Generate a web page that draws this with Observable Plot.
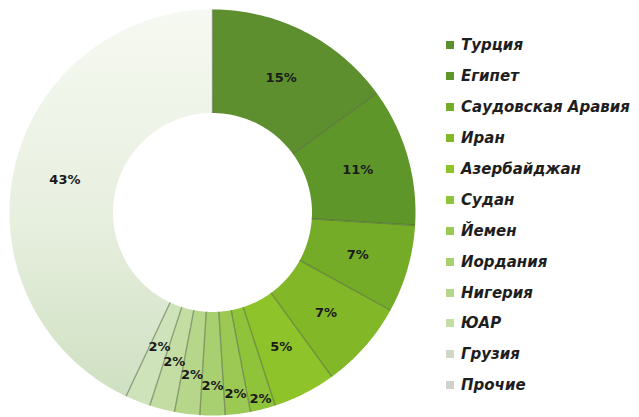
<!DOCTYPE html>
<html><head><meta charset="utf-8">
<script src="https://cdn.jsdelivr.net/npm/d3@7"></script>
<script src="https://cdn.jsdelivr.net/npm/@observablehq/plot@0.6"></script>
<style>
body{margin:0;background:#fff;}
#wrap{position:relative;width:639px;height:417px;overflow:hidden;}
#legend{position:absolute;left:446px;top:30px;font-family:"DejaVu Sans",sans-serif;font-weight:bold;font-style:italic;font-size:15px;color:#1e1e1e;}
.item{height:30.9px;display:flex;align-items:center;white-space:nowrap;}
.item svg{margin-right:7px;flex:none;}
</style></head><body><div id="wrap"><div id="legend"></div></div>
<script>
const countries = ["Турция","Египет","Саудовская Аравия","Иран","Азербайджан","Судан","Йемен","Иордания","Нигерия","ЮАР","Грузия","Прочие"];
const shares = [15,11,7,7,5,2,2,2,2,2,2,43];
const colors = ["#5d8f2e","#5f9629","#74ab27","#82b828","#8ec429","#8fc33a","#9bc954","#a8cf70","#b6d68a","#c3dda3","#cfe3ba","url(#gOther)"];
const legendColors = ["#5d8f2e","#5f9629","#74ab27","#82b828","#8ec429","#8fc33a","#9bc954","#a8cf70","#b6d68a","#c3dda3","#cfd8c4","#cfd2cb"];

const R_IN = 0.49;
const total = d3.sum(shares);
let acc = 0;
const slices = countries.map((name, i) => {
  const a0 = acc / total * 2 * Math.PI; acc += shares[i];
  const a1 = acc / total * 2 * Math.PI;
  return {name, value: shares[i], a0, a1, i};
});
const pt = (a, r) => ({x: r * Math.sin(a), y: r * Math.cos(a)});
const ringPts = slices.flatMap(s => {
  const n = Math.max(2, Math.ceil((s.a1 - s.a0) / Math.PI * 180));
  const pts = [];
  for (let k = 0; k <= n; k++) pts.push({...pt(s.a0 + (s.a1 - s.a0) * k / n, 1), name: s.name});
  for (let k = n; k >= 0; k--) pts.push({...pt(s.a0 + (s.a1 - s.a0) * k / n, R_IN), name: s.name});
  pts.push({...pt(s.a0, 1), name: s.name});
  return pts;
});
const seps = slices.map(s => ({x1: R_IN * Math.sin(s.a0), y1: R_IN * Math.cos(s.a0), x2: Math.sin(s.a0), y2: Math.cos(s.a0), name: s.name}));
// label layout: big slices at mid-ring, run of small slices staggered outward -> inward
let run = 0;
const labelData = slices.map(s => {
  const am = (s.a0 + s.a1) / 2;
  let r = (R_IN + 1) / 2;
  if (s.value < 3) { r = 0.95 - 0.048 * run; run++; }
  return {...pt(am, r), text: s.value + "%"};
});

const defs = () => {
  const d = d3.create("svg:defs");
  const g = d.append("linearGradient").attr("id", "gOther").attr("x1", 0).attr("y1", 0).attr("x2", 0).attr("y2", 1);
  g.append("stop").attr("offset", "0%").attr("stop-color", "#f6f9f1");
  g.append("stop").attr("offset", "55%").attr("stop-color", "#e7efdf");
  g.append("stop").attr("offset", "100%").attr("stop-color", "#cfe0c1");
  return d.node();
};

const chart = Plot.plot({
  width: 639, height: 417,
  marginLeft: 9, marginRight: 224, marginTop: 9, marginBottom: 2,
  x: {domain: [-1, 1], axis: null},
  y: {domain: [-1, 1], axis: null},
  color: {domain: countries, range: colors},
  style: {background: "transparent", overflow: "visible"},
  marks: [
    defs,
    Plot.line(ringPts, {x: "x", y: "y", z: "name", fill: "name", stroke: "none", curve: "linear"}),
    Plot.link(seps, {x1: "x1", y1: "y1", x2: "x2", y2: "y2", stroke: "#4d5e3a", strokeOpacity: 0.55, strokeWidth: 1.3}),
    Plot.text(labelData, {x: "x", y: "y", text: "text", fontSize: 13, fontWeight: "bold", fill: "#1a1a1a", fontFamily: "DejaVu Sans"})
  ]
});
document.getElementById("wrap").prepend(chart);

const legend = d3.select("#legend");
countries.forEach((name, i) => {
  const it = legend.append("div").attr("class", "item");
  it.append("svg").attr("width", 8).attr("height", 8).append("rect").attr("width", 8).attr("height", 8).attr("fill", legendColors[i]);
  it.append("span").text(name);
});
</script></body></html>
